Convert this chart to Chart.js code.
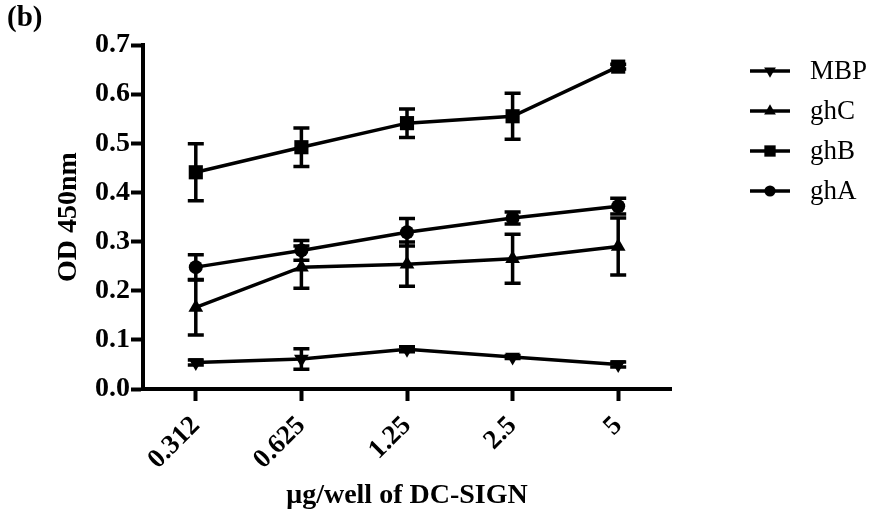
<!DOCTYPE html>
<html>
<head>
<meta charset="utf-8">
<script src="https://cdn.jsdelivr.net/npm/chart.js@4.4.1/dist/chart.umd.min.js"></script>
<style>
  body { margin: 0; background: #fff; }
  #wrap { width: 874px; height: 515px; position: relative; }
</style>
</head>
<body>
<div id="wrap"><canvas id="chart"></canvas></div>
<script>
// values (mean and error)
const doses = ['0.312', '0.625', '1.25', '2.5', '5'];
const yTicks = [0, 0.1, 0.2, 0.3, 0.4, 0.5, 0.6, 0.7];

const mbp = [0.054, 0.061, 0.081, 0.065, 0.050];
const mbpErr = [0.005, 0.021, 0.005, 0.003, 0.005];
const ghC = [0.166, 0.248, 0.254, 0.265, 0.290];
const ghCErr = [0.056, 0.043, 0.045, 0.050, 0.058];
const ghB = [0.441, 0.492, 0.541, 0.555, 0.656];
const ghBErr = [0.058, 0.039, 0.029, 0.047, 0.005];
const ghA = [0.248, 0.282, 0.319, 0.348, 0.372];
const ghAErr = [0.025, 0.020, 0.028, 0.012, 0.016];

const serif = '"Liberation Serif", "Times New Roman", serif';

const errorBars = {
  id: 'errorBars',
  beforeDatasetsDraw(chart) {
    const { ctx } = chart;
    const y = chart.scales.y;
    ctx.save();
    ctx.strokeStyle = '#000';
    ctx.lineWidth = 3.5;
    chart.data.datasets.forEach((ds, i) => {
      const meta = chart.getDatasetMeta(i);
      meta.data.forEach((pt, j) => {
        const top = y.getPixelForValue(ds.data[j] + ds.errors[j]);
        const bottom = y.getPixelForValue(ds.data[j] - ds.errors[j]);
        ctx.beginPath();
        ctx.moveTo(pt.x, top);
        ctx.lineTo(pt.x, bottom);
        ctx.moveTo(pt.x - 8, top);
        ctx.lineTo(pt.x + 8, top);
        ctx.moveTo(pt.x - 8, bottom);
        ctx.lineTo(pt.x + 8, bottom);
        ctx.stroke();
      });
    });
    ctx.restore();
  }
};

// legend with line + marker, and the panel letter
const sideLegend = {
  id: 'sideLegend',
  afterDraw(chart) {
    const { ctx } = chart;
    ctx.save();
    ctx.fillStyle = '#000';
    ctx.strokeStyle = '#000';
    ctx.font = 'bold 29px ' + serif;
    ctx.textBaseline = 'middle';
    ctx.fillText('(b)', 7, 19);

    ctx.font = '27px ' + serif;
    chart.data.datasets.forEach((ds, i) => {
      const rowY = 71 + i * 40;
      ctx.lineWidth = 3.5;
      ctx.beginPath();
      ctx.moveTo(750, rowY);
      ctx.lineTo(790, rowY);
      ctx.stroke();
      Chart.helpers.drawPoint(ctx, {
        pointStyle: ds.pointStyle,
        rotation: ds.pointRotation || 0,
        radius: ds.pointRadius * 0.8,
        borderWidth: 0
      }, 770, rowY);
      ctx.fillText(ds.label, 810, rowY + 1);
    });
    ctx.restore();
  }
};

const makeSet = (label, data, errors, style, radius, rotation) => ({
  label,
  data,
  errors,
  borderColor: '#000',
  backgroundColor: '#000',
  borderWidth: 3.5,
  tension: 0,
  fill: false,
  pointStyle: style,
  pointRadius: radius,
  pointRotation: rotation,
  pointBackgroundColor: '#000',
  pointBorderColor: '#000',
  pointBorderWidth: 0
});

const ctx = document.getElementById('chart').getContext('2d');
new Chart(ctx, {
  type: 'line',
  data: {
    labels: doses,
    datasets: [
      makeSet('MBP', mbp, mbpErr, 'triangle', 8.5, 180),
      makeSet('ghC', ghC, ghCErr, 'triangle', 8.5, 0),
      makeSet('ghB', ghB, ghBErr, 'rect', 10, 0),
      makeSet('ghA', ghA, ghAErr, 'circle', 7, 0)
    ]
  },
  options: {
    responsive: true,
    maintainAspectRatio: false,
    animation: false,
    layout: { padding: { top: 45, right: 203, bottom: 0, left: 0 } },
    plugins: {
      legend: { display: false },
      tooltip: { enabled: false }
    },
    scales: {
      x: {
        type: 'category',
        offset: true,
        grid: {
          offset: false,
          drawOnChartArea: false,
          tickLength: 12,
          tickWidth: 4,
          tickColor: '#000'
        },
        border: { color: '#000', width: 4 },
        ticks: {
          color: '#000',
          font: { family: serif, size: 27, weight: 'bold' },
          minRotation: 45,
          maxRotation: 45,
          padding: 9
        },
        title: {
          display: true,
          text: 'μg/well of DC-SIGN',
          color: '#000',
          font: { family: serif, size: 28, weight: 'bold' },
          padding: { top: 0, bottom: 2 }
        },
        afterFit(scale) { scale.height = 126; }
      },
      y: {
        min: 0,
        max: 0.7,
        afterBuildTicks(scale) { scale.ticks = yTicks.map(v => ({ value: v })); },
        grid: {
          drawOnChartArea: false,
          tickLength: 12,
          tickWidth: 4,
          tickColor: '#000'
        },
        border: { color: '#000', width: 4 },
        ticks: {
          color: '#000',
          font: { family: serif, size: 28, weight: 'bold' },
          padding: 1,
          callback: (v) => Number(v).toFixed(1)
        },
        title: {
          display: true,
          text: 'OD 450nm',
          color: '#000',
          font: { family: serif, size: 28, weight: 'bold' },
          padding: { top: 52, bottom: 0 }
        },
        afterFit(scale) { scale.width = 143; }
      }
    }
  },
  plugins: [errorBars, sideLegend]
});
</script>
</body>
</html>
